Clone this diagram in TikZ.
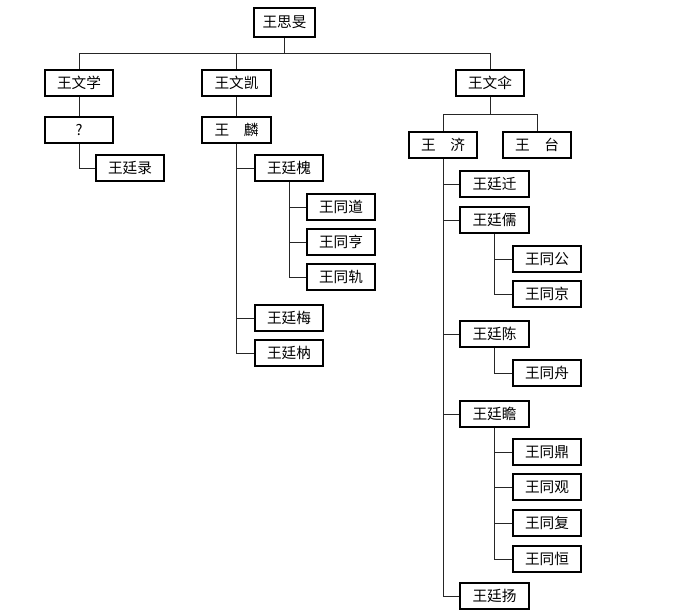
\documentclass[tikz,border=0pt]{standalone}
\usepackage{fontspec}
\setmainfont{Noto Sans CJK SC}
\begin{document}
\begin{tikzpicture}[x=0.75pt,y=-0.75pt,
  box/.style={draw=black,line width=1.4pt,minimum width=51.5pt,minimum height=20pt,inner sep=0pt,font=\fontsize{11pt}{12pt}\selectfont,fill=white},
  link/.style={draw=black!85,line width=0.6pt}]
\useasboundingbox (0,0) rectangle (686,614);
% nodes
\node[box,minimum width=46pt,minimum height=21.5pt] (root) at (284.5,22.5) {王思旻};
\node[box] (wxue) at (79,83) {王文学};
\node[box] (wkai) at (236.5,83) {王文凯};
\node[box] (wsan) at (490,83) {王文伞};
\node[box] (q) at (79,130) {?};
\node[box] (lin) at (236.5,130) {王　麟};
\node[box] (ji) at (443,145) {王　济};
\node[box] (tai) at (537,145) {王　台};
\node[box] (tlu) at (130,168) {王廷录};
\node[box] (th) at (289,168) {王廷槐};
\node[box] (td) at (341,207) {王同道};
\node[box] (tx) at (341,242) {王同亨};
\node[box] (tg) at (341,277) {王同轨};
\node[box] (tm) at (289,318) {王廷梅};
\node[box] (tn) at (289,353) {王廷枘};
\node[box] (tq) at (494.5,184) {王廷迁};
\node[box] (tr) at (494.5,220) {王廷儒};
\node[box] (gg) at (547,259) {王同公};
\node[box] (gj) at (547,294) {王同京};
\node[box] (tc) at (494.5,334) {王廷陈};
\node[box] (gz) at (547,373) {王同舟};
\node[box] (tzh) at (494.5,414) {王廷瞻};
\node[box] (gd) at (547,452) {王同鼎};
\node[box] (gga) at (547,487) {王同观};
\node[box] (gf) at (547,523) {王同复};
\node[box] (gh) at (547,559) {王同恒};
\node[box] (ty) at (494.5,596) {王廷扬};
% buses
\coordinate (bus) at (0,53);
\coordinate (bus2) at (0,114);
\draw[link] (root.south) -- (bus -| root);
\draw[link] (wxue.north) |- (bus -| wsan) -- (wsan.north);
\draw[link] (wkai.north) -- (bus -| wkai);
\draw[link] (wxue.south) -- (q.north);
\draw[link] (wkai.south) -- (lin.north);
\draw[link] (wsan.south) -- (bus2 -| wsan);
\draw[link] (ji.north) |- (bus2 -| tai) -- (tai.north);
\draw[link] (q.south) |- (tlu.west);
\draw[link] (lin.south) |- (th.west);
\draw[link] (lin.south) |- (tm.west);
\draw[link] (lin.south) |- (tn.west);
\draw[link] (th.south) |- (td.west);
\draw[link] (th.south) |- (tx.west);
\draw[link] (th.south) |- (tg.west);
\draw[link] (ji.south) |- (tq.west);
\draw[link] (ji.south) |- (tr.west);
\draw[link] (ji.south) |- (tc.west);
\draw[link] (ji.south) |- (tzh.west);
\draw[link] (ji.south) |- (ty.west);
\draw[link] (tr.south) |- (gg.west);
\draw[link] (tr.south) |- (gj.west);
\draw[link] (tc.south) |- (gz.west);
\draw[link] (tzh.south) |- (gd.west);
\draw[link] (tzh.south) |- (gga.west);
\draw[link] (tzh.south) |- (gf.west);
\draw[link] (tzh.south) |- (gh.west);
\end{tikzpicture}
\end{document}
